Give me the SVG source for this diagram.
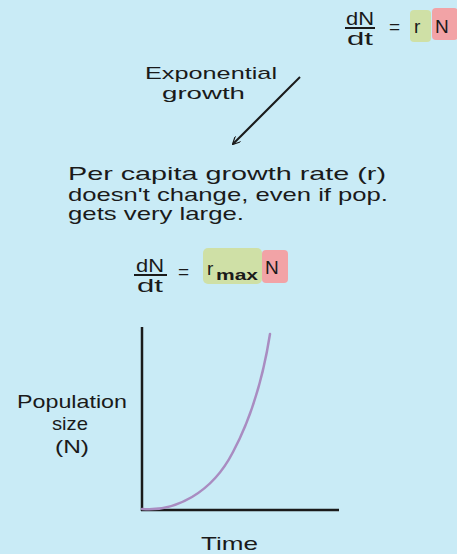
<svg xmlns="http://www.w3.org/2000/svg" width="457" height="554" viewBox="0 0 457 554">
<defs>
<style>
.t{font-family:"Liberation Sans","DejaVu Sans",sans-serif;fill:#1a1a1a;font-size:19px}
.s{font-size:17px}
.ln{stroke:#1a1a1a;fill:none}
</style>
<marker id="ah" viewBox="0 0 10 10" refX="9" refY="5" markerWidth="8" markerHeight="8" orient="auto" markerUnits="userSpaceOnUse">
<path d="M0,0 L10,5 L0,10" fill="none" stroke="#1a1a1a" stroke-width="1.5"/>
</marker>
</defs>
<rect width="457" height="554" fill="#c9ebf6"/>
<g id="eq-top">
<rect x="410" y="10" width="21" height="32" rx="4" fill="#cfe0a6"/>
<rect x="432" y="8" width="26" height="32" rx="4" fill="#f2a3a6"/>
<text class="t" x="346" y="25" textLength="28" lengthAdjust="spacingAndGlyphs">dN</text>
<line class="ln" x1="345" y1="28" x2="375" y2="28" stroke-width="2"/>
<text class="t" x="347" y="45" textLength="26" lengthAdjust="spacingAndGlyphs">dt</text>
<text class="t" x="389" y="33">=</text>
<text class="t" x="414" y="33">r</text>
<text class="t" x="435" y="33">N</text>
</g>
<g id="label-exp">
<text class="t s" x="145" y="79" textLength="132" lengthAdjust="spacingAndGlyphs">Exponential</text>
<text class="t s" x="162" y="99" textLength="83" lengthAdjust="spacingAndGlyphs">growth</text>
</g>
<g id="connectors">
<line class="ln" x1="300" y1="77" x2="233" y2="144" stroke-width="2" marker-end="url(#ah)"/>
</g>
<g id="para">
<text class="t" x="68" y="180" textLength="318" lengthAdjust="spacingAndGlyphs">Per capita growth rate (r)</text>
<text class="t" x="68" y="201" textLength="320" lengthAdjust="spacingAndGlyphs">doesn't change, even if pop.</text>
<text class="t" x="68" y="220" textLength="176" lengthAdjust="spacingAndGlyphs">gets very large.</text>
</g>
<g id="eq-mid">
<rect x="203" y="248" width="59" height="36" rx="5" fill="#cfe0a6"/>
<rect x="262" y="250" width="26" height="33" rx="4" fill="#f2a3a6"/>
<text class="t" x="136" y="272" textLength="28" lengthAdjust="spacingAndGlyphs">dN</text>
<line class="ln" x1="134" y1="275" x2="167" y2="275" stroke-width="2"/>
<text class="t" x="137" y="292" textLength="26" lengthAdjust="spacingAndGlyphs">dt</text>
<text class="t" x="178" y="278">=</text>
<text class="t" x="207" y="275">r</text>
<text class="t" x="216" y="280" style="font-size:14px;font-weight:bold" textLength="42" lengthAdjust="spacingAndGlyphs">max</text>
<text class="t" x="265" y="274">N</text>
</g>
<g id="graph">
<line class="ln" x1="142" y1="327" x2="142" y2="511" stroke-width="2.5"/>
<line class="ln" x1="141" y1="510" x2="339" y2="510" stroke-width="2.5"/>
<path d="M142,509 C175,512 212,493 233,452 C250,420 262,385 270,334" fill="none" stroke="#a98cc1" stroke-width="2.5" stroke-linecap="round"/>
<text class="t" x="17" y="408" textLength="110" lengthAdjust="spacingAndGlyphs">Population</text>
<text class="t" x="52" y="430" textLength="36" lengthAdjust="spacingAndGlyphs">size</text>
<text class="t" x="55" y="453" textLength="34" lengthAdjust="spacingAndGlyphs">(N)</text>
<text class="t" x="201" y="550" textLength="57" lengthAdjust="spacingAndGlyphs">Time</text>
</g>
</svg>
